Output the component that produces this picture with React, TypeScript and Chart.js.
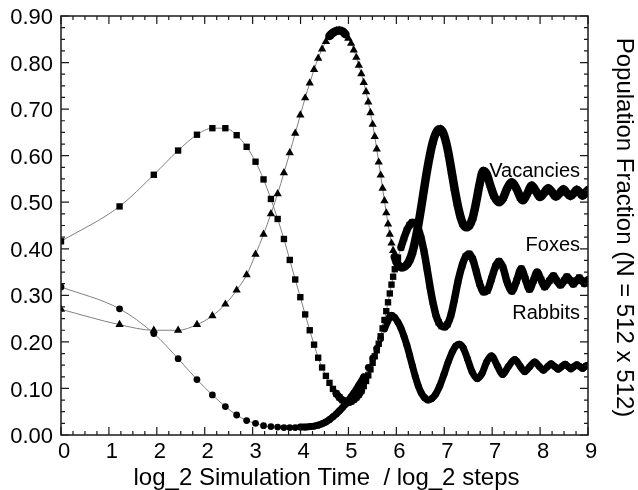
import React, { useEffect, useRef } from 'react';
import { Chart, registerables } from 'chart.js';

Chart.register(...registerables);

// ---- data (x = log2 simulation time, y = population fraction) ----
const vacanciesX = [0, 1, 1.585, 2, 2.322, 2.585, 2.807, 3, 3.17, 3.322, 3.459, 3.585, 3.7, 3.807, 3.907, 4, 4.087, 4.17, 4.248, 4.322, 4.392, 4.459, 4.524, 4.585, 4.644, 4.7, 4.755, 4.807, 4.858, 4.907, 4.954, 5, 5.044, 5.087, 5.129, 5.17, 5.21, 5.248, 5.285, 5.322, 5.358, 5.392, 5.426, 5.459, 5.492, 5.524, 5.555, 5.585, 5.615, 5.644, 5.672, 5.7, 5.728, 5.755, 5.781, 5.807, 5.858, 5.907, 5.954, 6, 6.05, 6.1, 6.15, 6.2, 6.25, 6.3, 6.35, 6.4, 6.44, 6.48, 6.52, 6.57, 6.62, 6.67, 6.72, 6.77, 6.82, 6.87, 6.92, 6.97, 7.03, 7.09, 7.15, 7.21, 7.27, 7.33, 7.4, 7.48, 7.55, 7.62, 7.7, 7.78, 7.85, 7.89, 7.96, 8.04, 8.11, 8.18, 8.25, 8.32, 8.39, 8.45, 8.52, 8.58, 8.64, 8.7, 8.76, 8.81, 8.86, 8.91, 8.96, 9];
const vacanciesY = [0.270, 0.237, 0.225, 0.225, 0.237, 0.256, 0.281, 0.311, 0.344, 0.388, 0.431, 0.475, 0.518, 0.563, 0.606, 0.648, 0.687, 0.724, 0.756, 0.785, 0.809, 0.829, 0.845, 0.857, 0.864, 0.868, 0.869, 0.867, 0.861, 0.852, 0.841, 0.827, 0.811, 0.794, 0.776, 0.757, 0.737, 0.715, 0.692, 0.667, 0.641, 0.614, 0.586, 0.558, 0.530, 0.503, 0.477, 0.453, 0.431, 0.412, 0.396, 0.383, 0.373, 0.366, 0.362, 0.360, 0.361, 0.366, 0.376, 0.392, 0.418, 0.450, 0.488, 0.528, 0.567, 0.601, 0.629, 0.648, 0.656, 0.657, 0.651, 0.632, 0.603, 0.567, 0.530, 0.497, 0.470, 0.452, 0.446, 0.449, 0.466, 0.500, 0.540, 0.567, 0.561, 0.537, 0.512, 0.500, 0.509, 0.530, 0.543, 0.529, 0.509, 0.504, 0.518, 0.536, 0.524, 0.511, 0.520, 0.530, 0.521, 0.512, 0.520, 0.528, 0.520, 0.513, 0.520, 0.527, 0.521, 0.514, 0.521, 0.526];

const foxesX = [0, 1, 1.585, 2, 2.322, 2.585, 2.807, 3, 3.17, 3.322, 3.459, 3.585, 3.7, 3.807, 3.907, 4, 4.087, 4.17, 4.248, 4.322, 4.392, 4.459, 4.524, 4.585, 4.644, 4.7, 4.755, 4.807, 4.858, 4.907, 4.954, 5, 5.044, 5.087, 5.129, 5.17, 5.21, 5.248, 5.285, 5.322, 5.358, 5.392, 5.426, 5.459, 5.492, 5.524, 5.555, 5.585, 5.615, 5.644, 5.672, 5.7, 5.755, 5.807, 5.858, 5.907, 5.954, 6, 6.05, 6.1, 6.15, 6.2, 6.25, 6.3, 6.35, 6.4, 6.45, 6.5, 6.55, 6.6, 6.66, 6.72, 6.78, 6.85, 6.91, 6.97, 7.03, 7.09, 7.15, 7.22, 7.28, 7.35, 7.42, 7.48, 7.55, 7.62, 7.7, 7.78, 7.86, 7.93, 8, 8.07, 8.13, 8.2, 8.26, 8.34, 8.41, 8.47, 8.53, 8.59, 8.64, 8.7, 8.75, 8.8, 8.85, 8.9, 8.94, 9];
const foxesY = [0.416, 0.491, 0.559, 0.611, 0.645, 0.659, 0.659, 0.644, 0.619, 0.587, 0.549, 0.507, 0.464, 0.421, 0.376, 0.334, 0.296, 0.259, 0.225, 0.194, 0.166, 0.145, 0.127, 0.112, 0.099, 0.089, 0.081, 0.075, 0.071, 0.070, 0.072, 0.076, 0.081, 0.087, 0.095, 0.105, 0.116, 0.128, 0.141, 0.155, 0.169, 0.182, 0.196, 0.212, 0.229, 0.247, 0.266, 0.285, 0.304, 0.323, 0.340, 0.356, 0.381, 0.403, 0.423, 0.440, 0.451, 0.457, 0.455, 0.444, 0.423, 0.394, 0.358, 0.320, 0.286, 0.259, 0.242, 0.234, 0.232, 0.238, 0.258, 0.292, 0.330, 0.364, 0.383, 0.389, 0.378, 0.352, 0.325, 0.307, 0.310, 0.335, 0.362, 0.373, 0.359, 0.328, 0.309, 0.331, 0.357, 0.335, 0.313, 0.332, 0.350, 0.333, 0.318, 0.331, 0.342, 0.331, 0.322, 0.331, 0.340, 0.332, 0.324, 0.331, 0.338, 0.331, 0.325, 0.333];

const rabbitsX = [0, 1, 1.585, 2, 2.322, 2.585, 2.807, 3, 3.17, 3.322, 3.459, 3.585, 3.7, 3.807, 3.907, 4, 4.087, 4.17, 4.248, 4.322, 4.392, 4.459, 4.524, 4.585, 4.644, 4.7, 4.755, 4.807, 4.858, 4.907, 4.954, 5, 5.087, 5.17, 5.248, 5.322, 5.392, 5.459, 5.524, 5.585, 5.615, 5.644, 5.7, 5.755, 5.807, 5.858, 5.907, 5.954, 6, 6.05, 6.1, 6.15, 6.21, 6.27, 6.33, 6.4, 6.47, 6.54, 6.61, 6.68, 6.74, 6.8, 6.87, 6.94, 7.02, 7.11, 7.19, 7.27, 7.35, 7.45, 7.54, 7.64, 7.75, 7.84, 7.92, 8, 8.09, 8.17, 8.24, 8.31, 8.37, 8.43, 8.49, 8.55, 8.61, 8.66, 8.71, 8.76, 8.81, 8.86, 8.91, 8.96, 9];
const rabbitsY = [0.318, 0.271, 0.218, 0.164, 0.119, 0.086, 0.061, 0.043, 0.031, 0.025, 0.020, 0.018, 0.017, 0.016, 0.016, 0.016, 0.017, 0.017, 0.018, 0.019, 0.021, 0.024, 0.028, 0.033, 0.039, 0.045, 0.052, 0.059, 0.066, 0.074, 0.082, 0.090, 0.107, 0.125, 0.145, 0.165, 0.186, 0.207, 0.228, 0.246, 0.254, 0.257, 0.252, 0.242, 0.229, 0.212, 0.193, 0.171, 0.149, 0.126, 0.106, 0.091, 0.080, 0.075, 0.078, 0.088, 0.106, 0.130, 0.156, 0.178, 0.191, 0.195, 0.187, 0.164, 0.136, 0.121, 0.132, 0.157, 0.170, 0.149, 0.130, 0.147, 0.162, 0.148, 0.136, 0.146, 0.157, 0.147, 0.139, 0.147, 0.153, 0.147, 0.141, 0.147, 0.152, 0.147, 0.142, 0.147, 0.151, 0.147, 0.143, 0.148, 0.150];

const xTickLabels = ['0', '1', '2', '2', '3', '4', '5', '6', '7', '7', '8', '9'];
const yTickLabels = ['0.00', '0.10', '0.20', '0.30', '0.40', '0.50', '0.60', '0.70', '0.80', '0.90'];
const seriesLabels = ['Vacancies', 'Foxes', 'Rabbits'];
const seriesLabelLevels = [0.565, 0.408, 0.262];

const FONT = '"Liberation Sans", Arial, Helvetica, sans-serif';

const toPoints = (xs: number[], ys: number[]) => xs.map((x, i) => ({ x, y: ys[i] }));

// markers merge into a solid band where successive time steps are closer than a marker
const isDense = (c: any) => {
  const chart = c.chart;
  const data = chart.data.datasets[c.datasetIndex].data as any[];
  const a = data[c.p0DataIndex];
  const b = data[c.p1DataIndex];
  if (!a || !b) return false;
  const xs = chart.scales.x;
  const ppu = xs.getPixelForValue(1) - xs.getPixelForValue(0);
  const t = Math.pow(2, (a.x + b.x) / 2);
  const stepPx = ppu / (t * Math.LN2);
  const dx = c.p1.x - c.p0.x;
  const dy = c.p1.y - c.p0.y;
  const slope = dx > 0 ? Math.abs(dy / dx) : 1e6;
  const spacing = stepPx * Math.sqrt(1 + slope * slope);
  return spacing < 5 || (stepPx < 1.5 && spacing < 10);
};

const decorations = {
  id: 'decorations',
  afterDraw(chart: any) {
    const { ctx, chartArea: a, scales } = chart;
    const xs = scales.x;
    const ys = scales.y;
    ctx.save();
    ctx.strokeStyle = '#1a1a1a';
    ctx.lineWidth = 1.5;
    ctx.strokeRect(a.left, a.top, a.right - a.left, a.bottom - a.top);
    ctx.lineWidth = 1.2;
    ctx.beginPath();
    const nx = (xTickLabels.length - 1) * 4;
    for (let i = 0; i <= nx; i++) {
      const px = xs.getPixelForValue((i * 9) / nx);
      const L = i % 4 === 0 ? 8 : 4;
      ctx.moveTo(px, a.bottom);
      ctx.lineTo(px, a.bottom - L);
      ctx.moveTo(px, a.top);
      ctx.lineTo(px, a.top + L);
    }
    const ny = (yTickLabels.length - 1) * 4;
    for (let i = 0; i <= ny; i++) {
      const py = ys.getPixelForValue((i * 0.9) / ny);
      const L = i % 4 === 0 ? 8 : 4;
      ctx.moveTo(a.left, py);
      ctx.lineTo(a.left + L, py);
      ctx.moveTo(a.right, py);
      ctx.lineTo(a.right - L, py);
    }
    ctx.stroke();

    ctx.fillStyle = '#000';
    ctx.font = `22px ${FONT}`;
    ctx.textAlign = 'right';
    ctx.textBaseline = 'middle';
    yTickLabels.forEach((lab, i) => {
      ctx.fillText(lab, a.left - 8, ys.getPixelForValue(i * 0.1) + 2);
    });
    ctx.textAlign = 'center';
    ctx.textBaseline = 'top';
    xTickLabels.forEach((lab, i) => {
      ctx.fillText(lab, xs.getPixelForValue((i * 9) / (xTickLabels.length - 1)) + 3, a.bottom + 6);
    });
    ctx.font = `24px ${FONT}`;
    ctx.textBaseline = 'alphabetic';
    ctx.fillText('log_2 Simulation Time  / log_2 steps', (a.left + a.right) / 2 + 2, 485);

    ctx.save();
    ctx.translate(624, (a.top + a.bottom) / 2 + 2);
    ctx.rotate(Math.PI / 2);
    ctx.textAlign = 'center';
    ctx.textBaseline = 'middle';
    ctx.font = `24px ${FONT}`;
    ctx.fillText('Population Fraction (N = 512 x 512)', 0, 0);
    ctx.restore();

    ctx.font = `20px ${FONT}`;
    ctx.textAlign = 'right';
    ctx.textBaseline = 'middle';
    seriesLabels.forEach((lab, i) => {
      ctx.fillText(lab, a.right - 8, ys.getPixelForValue(seriesLabelLevels[i]));
    });
    ctx.restore();
  },
};

const makeDataset = (label: string, xs: number[], ys: number[], style: string, radius: number, bandWidth: number) => ({
  label,
  data: toPoints(xs, ys),
  pointStyle: style,
  pointRadius: radius,
  pointBackgroundColor: '#000',
  pointBorderColor: '#000',
  pointBorderWidth: 0,
  borderColor: '#808080',
  borderWidth: 1,
  borderCapStyle: 'round',
  borderJoinStyle: 'round',
  cubicInterpolationMode: 'monotone',
  clip: 0,
  segment: {
    borderWidth: (c: any) => (isDense(c) ? bandWidth : 1),
    borderColor: (c: any) => (isDense(c) ? '#000' : '#808080'),
  },
});

export default function App() {
  const ref = useRef<HTMLCanvasElement | null>(null);
  useEffect(() => {
    if (!ref.current) return;
    const chart = new Chart(ref.current, {
      type: 'line',
      data: {
        datasets: [
          makeDataset('Vacancies', vacanciesX, vacanciesY, 'triangle', 4.8, 8.5),
          makeDataset('Foxes', foxesX, foxesY, 'rect', 4.5, 7.5),
          makeDataset('Rabbits', rabbitsX, rabbitsY, 'circle', 3.4, 7),
        ] as any,
      },
      options: {
        animation: false,
        responsive: false,
        devicePixelRatio: 1,
        layout: { padding: { left: 61, right: 50, top: 16, bottom: 55 } },
        plugins: { legend: { display: false }, tooltip: { enabled: false } },
        scales: {
          x: { type: 'linear', min: 0, max: 9, display: false },
          y: { type: 'linear', min: 0, max: 0.9, display: false },
        },
      },
      plugins: [decorations],
    });
    return () => chart.destroy();
  }, []);
  return (
    <div style={{ position: 'fixed', left: 0, top: 0, width: 638, height: 490, background: '#fff' }}>
      <canvas ref={ref} width={638} height={490} style={{ display: 'block' }} />
    </div>
  );
}
